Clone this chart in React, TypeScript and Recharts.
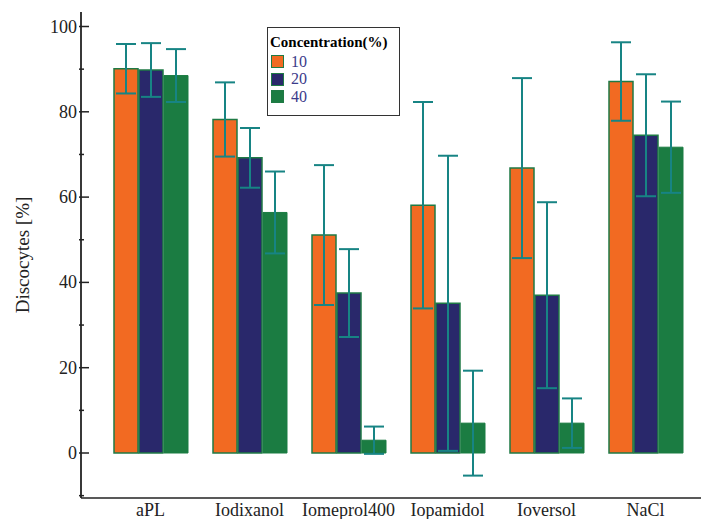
import React from 'react';
import { BarChart, Bar, XAxis, YAxis, ErrorBar, Label } from 'recharts';

const categories = ['aPL', 'Iodixanol', 'Iomeprol400', 'Iopamidol', 'Ioversol', 'NaCl'];
const mean10 = [90.1, 78.2, 51.1, 58.1, 66.8, 87.1];
const err10 = [5.8, 8.7, 16.4, 24.2, 21.1, 9.2];
const mean20 = [89.8, 69.2, 37.5, 35.1, 37.0, 74.5];
const err20 = [6.3, 7.0, 10.3, 34.6, 21.8, 14.3];
const mean40 = [88.5, 56.4, 3.0, 7.0, 7.0, 71.7];
const err40 = [6.2, 9.6, 3.2, 12.3, 5.8, 10.7];
const seriesNames = ['10', '20', '40'];
const yTicks = [-10, 0, 10, 20, 30, 40, 50, 60, 70, 80, 90, 100];
const legendTitle = 'Concentration(%)';
const yLabel = 'Discocytes [%]';

const data = categories.map((c, i) => ({
  name: c,
  m10: mean10[i],
  e10: err10[i],
  m20: mean20[i],
  e20: err20[i],
  m40: mean40[i],
  e40: err40[i],
}));

const FONT = '"Liberation Serif", "Times New Roman", serif';
const ORANGE = '#f26a22';
const NAVY = '#29286b';
const GREEN = '#1b7c42';
const EDGE = '#1f7a45';
const ERR = '#178484';
const fills = [ORANGE, NAVY, GREEN];

const YTick = (props: any) => {
  const { x, y, payload } = props;
  const v = payload.value;
  const major = v % 20 === 0;
  return (
    <g>
      <line x1={x - 2} x2={x + (major ? 8 : 3)} y1={y} y2={y} stroke="#222" strokeWidth={1.5} />
      {major && (
        <text x={x - 4} y={y} dy={6} textAnchor="end" fontFamily={FONT} fontSize={18} fill="#222">
          {v}
        </text>
      )}
    </g>
  );
};

const XTick = (props: any) => {
  const { x, y, payload } = props;
  return (
    <text x={x} y={y} dy={10} textAnchor="middle" fontFamily={FONT} fontSize={18} fill="#222">
      {payload.value}
    </text>
  );
};

const LegendBox = () => (
  <div
    style={{
      position: 'absolute',
      left: 267,
      top: 27,
      border: '1.5px solid #333',
      width: 133,
      height: 89,
      boxSizing: 'border-box',
      padding: '5px 0 0 2px',
      fontFamily: FONT,
      background: '#fff',
    }}
  >
    <div style={{ fontWeight: 'bold', fontSize: 15, color: '#000', lineHeight: '18px', marginBottom: 2 }}>
      {legendTitle}
    </div>
    {seriesNames.map((n, i) => (
      <div key={n} style={{ display: 'flex', alignItems: 'center', height: 17.5 }}>
        <div
          style={{
            width: 13,
            height: 13,
            background: fills[i],
            border: `1.5px solid ${EDGE}`,
            boxSizing: 'border-box',
            marginLeft: 1,
            marginRight: 7,
          }}
        />
        <span style={{ fontSize: 16, color: '#3b3b8a' }}>{n}</span>
      </div>
    ))}
  </div>
);

export default function App() {
  return (
    <div style={{ position: 'relative', margin: -8, width: 709, height: 527, overflow: 'hidden', background: '#fff' }}>
      <BarChart
        width={730}
        height={527}
        data={data}
        margin={{ top: 12, right: 16, left: 0, bottom: 0 }}
        barSize={24}
        barGap={1}
      >
        <XAxis
          dataKey="name"
          height={29}
          padding={{ left: 20, right: 19 }}
          tickLine={false}
          axisLine={{ stroke: '#222', strokeWidth: 1.5 }}
          tick={<XTick />}
          interval={0}
        />
        <XAxis
          xAxisId="top"
          orientation="top"
          dataKey="name"
          height={0}
          tick={false}
          tickLine={false}
          axisLine={{ stroke: '#222', strokeWidth: 2.5 }}
        />
        <YAxis
          width={81}
          domain={[-10.55, 103.4]}
          allowDataOverflow
          ticks={yTicks}
          interval={0}
          tickSize={0}
          tickMargin={0}
          tickLine={false}
          axisLine={{ stroke: '#222', strokeWidth: 1.8 }}
          tick={<YTick />}
        >
          <Label
            value={yLabel}
            angle={-90}
            position="insideLeft"
            offset={22}
            style={{ fontFamily: FONT, fontSize: 19, fill: '#222', textAnchor: 'middle' }}
          />
        </YAxis>
        <Bar dataKey="m10" name={seriesNames[0]} fill={ORANGE} stroke={EDGE} strokeWidth={1.5} isAnimationActive={false}>
          <ErrorBar dataKey="e10" width={10} stroke={ERR} strokeWidth={2} />
        </Bar>
        <Bar dataKey="m20" name={seriesNames[1]} fill={NAVY} stroke={EDGE} strokeWidth={1.5} isAnimationActive={false}>
          <ErrorBar dataKey="e20" width={10} stroke={ERR} strokeWidth={2} />
        </Bar>
        <Bar dataKey="m40" name={seriesNames[2]} fill={GREEN} stroke={GREEN} strokeWidth={1} isAnimationActive={false}>
          <ErrorBar dataKey="e40" width={10} stroke={ERR} strokeWidth={2} />
        </Bar>
      </BarChart>
      <LegendBox />
    </div>
  );
}
